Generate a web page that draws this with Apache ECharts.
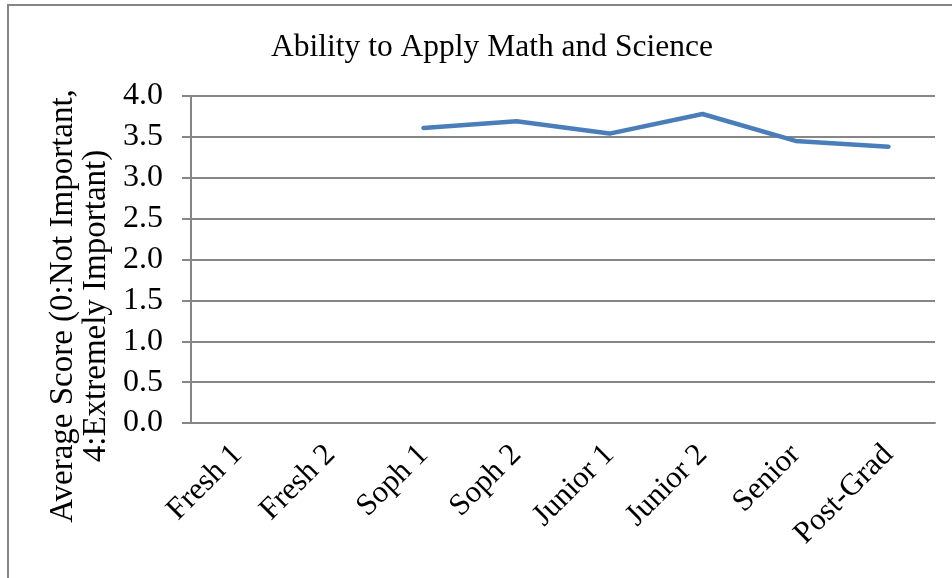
<!DOCTYPE html>
<html>
<head>
<meta charset="utf-8">
<script src="https://cdn.jsdelivr.net/npm/echarts@6/dist/echarts.min.js"></script>
<style>
  html, body { margin: 0; padding: 0; background: #fff; }
  .frame {
    position: absolute; left: 7px; top: 4px; width: 960px; height: 600px;
    border-left: 2px solid #868686; border-top: 2px solid #868686;
  }
  #LineChart { position: absolute; left: 0; top: 0; width: 952px; height: 578px; }
</style>
</head>
<body>
<div class="frame"></div>
<div id="LineChart"></div>
<script>
// categories on the x axis
var categories = ['Fresh 1', 'Fresh 2', 'Soph 1', 'Soph 2', 'Junior 1', 'Junior 2', 'Senior', 'Post-Grad'];
// average scores (no data for freshmen)
var scores = [null, null, 3.61, 3.69, 3.54, 3.78, 3.45, 3.38];
var titleText = 'Ability to Apply Math and Science';
var yName = 'Average Score (0:Not Important,\n4:Extremely Important)';

var serif = '"Liberation Serif", "Times New Roman", serif';
var gray = '#868686';

var myChart = echarts.init(document.getElementById('LineChart'));
var option = {
  animation: false,
  title: {
    text: titleText,
    left: 487,
    top: 27,
    textAlign: 'center',
    textStyle: { color: '#000', fontFamily: serif, fontWeight: 'normal', fontSize: 31.5 }
  },
  grid: { left: 191, right: 17, top: 96, bottom: 155 },
  graphic: [{
    type: 'text',
    x: 80,
    y: 306,
    rotation: Math.PI / 2,
    style: {
      text: yName,
      fill: '#000',
      font: '33px ' + serif,
      align: 'center',
      verticalAlign: 'middle',
      lineHeight: 33
    }
  }],
  xAxis: {
    type: 'category',
    data: categories,
    boundaryGap: true,
    axisLine: { lineStyle: { color: gray, width: 2 } },
    axisTick: { length: 9, lineStyle: { color: gray, width: 2 } },
    axisLabel: {
      interval: 0,
      rotate: 45,
      margin: 27,
      color: '#000',
      fontFamily: serif,
      fontSize: 31
    }
  },
  yAxis: {
    type: 'value',
    min: 0,
    max: 4,
    interval: 0.5,
    axisLine: { show: true, lineStyle: { color: gray, width: 2 } },
    axisTick: { show: true, length: 9, lineStyle: { color: gray, width: 2 } },
    splitLine: { lineStyle: { color: gray, width: 2 } },
    axisLabel: {
      margin: 28,
      color: '#000',
      fontFamily: serif,
      fontSize: 32,
      formatter: function (v) { return v.toFixed(1); }
    }
  },
  series: [{
    type: 'line',
    data: scores,
    showSymbol: false,
    connectNulls: false,
    lineStyle: { color: '#4a7ebb', width: 4.5, cap: 'round' },
    itemStyle: { color: '#4a7ebb' }
  }]
};
myChart.setOption(option);
</script>
</body>
</html>
